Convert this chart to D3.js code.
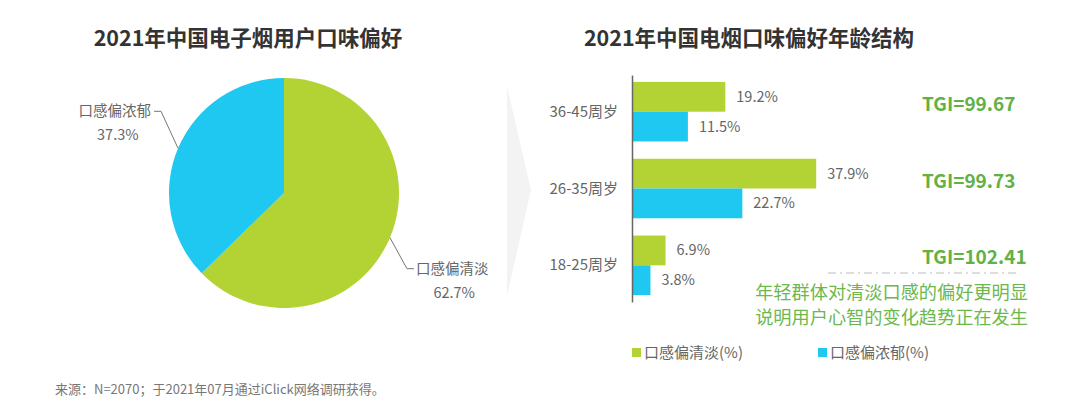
<!DOCTYPE html>
<html><head><meta charset="utf-8">
<script src="https://cdn.jsdelivr.net/npm/d3@7"></script>
<style>body{margin:0;background:#fff;} svg{display:block;font-family:"Noto Sans CJK SC","Noto Sans",sans-serif;}</style>
</head><body>
<svg id="c" width="1080" height="403"></svg>
<script>
// ---- data ----
const pieCategories = ["口感偏清淡", "口感偏浓郁"];
const pieValues = [62.7, 37.3];
const ageGroups = ["36-45周岁", "26-35周岁", "18-25周岁"];
const lightValues = [19.2, 37.9, 6.9];
const heavyValues = [11.5, 22.7, 3.8];
const tgiLabels = ["TGI=99.67", "TGI=99.73", "TGI=102.41"];
const seriesNames = ["口感偏清淡(%)", "口感偏浓郁(%)"];
const noteLines = ["年轻群体对清淡口感的偏好更明显", "说明用户心智的变化趋势正在发生"];
const title1 = "2021年中国电子烟用户口味偏好";
const title2 = "2021年中国电烟口味偏好年龄结构";
const source = "来源：N=2070；于2021年07月通过iClick网络调研获得。";

const GREEN = "#b3d234", BLUE = "#1ec8f1", TGI_GREEN = "#62b145", TXT = "#666";
const svg = d3.select("#c");

// titles
svg.append("text").attr("x", 248).attr("y", 46).attr("text-anchor", "middle")
  .attr("font-size", 21.5).attr("font-weight", "bold").attr("fill", "#333").text(title1);
svg.append("text").attr("x", 749).attr("y", 46).attr("text-anchor", "middle")
  .attr("font-size", 21.5).attr("font-weight", "bold").attr("fill", "#333").text(title2);

// ---- pie ----
const cx = 284, cy = 193, R = 115;
const pie = d3.pie().sort(null)(pieValues);
const arc = d3.arc().innerRadius(0).outerRadius(R);
const edge = d3.arc().innerRadius(R).outerRadius(R);
const gp = svg.append("g").attr("transform", `translate(${cx},${cy})`);
gp.selectAll("path").data(pie).join("path").attr("d", arc)
  .attr("fill", (d, i) => i === 0 ? GREEN : BLUE);
// labels
const labelCfg = [{dx: 17, dy: 31, hx: 7, anchor: "start"}, {dx: -17, dy: -37, hx: -7, anchor: "end"}];
pie.forEach((d, i) => {
  const c = edge.centroid(d);
  const cfg = labelCfg[i];
  const ex = c[0] + cfg.dx, ey = c[1] + cfg.dy;
  gp.append("polyline").attr("points", [c, [ex, ey], [ex + cfg.hx, ey]].map(p => p.join(",")).join(" "))
    .attr("fill", "none").attr("stroke", "#777").attr("stroke-width", 1);
  const tx = ex + cfg.hx + (cfg.hx > 0 ? 2 : -3);
  gp.append("text").attr("x", tx).attr("y", ey + 5).attr("text-anchor", cfg.anchor)
    .attr("font-size", 14.5).attr("fill", TXT).text(pieCategories[i]);
  const w = 72.5;
  const mid = cfg.anchor === "start" ? tx + w / 2 : tx - w / 2;
  gp.append("text").attr("x", mid + (i === 0 ? 2 : 3)).attr("y", ey + 29).attr("text-anchor", "middle")
    .attr("font-size", 14.5).attr("fill", TXT).text(d3.format(".1f")(pieValues[i]) + "%");
});

// arrow chevron
svg.append("path").attr("d", "M507,86 L531,190 L507,296 Z").attr("fill", "#f3f3f3");

// ---- bars ----
const x0 = 632;
const x = d3.scaleLinear().domain([0, 10]).range([x0, x0 + 48.6]);
const y = d3.scaleBand().domain(ageGroups).range([75, 302]).paddingInner(0.225).paddingOuter(0.09);
const yi = d3.scaleBand().domain([0, 1]).range([0, y.bandwidth()]);
const gb = svg.append("g");
ageGroups.forEach((g, gi) => {
  [lightValues[gi], heavyValues[gi]].forEach((v, si) => {
    const yy = y(g) + yi(si);
    gb.append("rect").attr("x", x(0)).attr("y", yy).attr("width", x(v) - x(0)).attr("height", yi.bandwidth())
      .attr("fill", si === 0 ? GREEN : BLUE);
    gb.append("text").attr("x", x(v) + 11).attr("y", yy + yi.bandwidth() / 2 + 5)
      .attr("font-size", 14.5).attr("fill", TXT).text(d3.format(".1f")(v) + "%");
  });
  gb.append("text").attr("x", 618).attr("y", y(g) + y.bandwidth() / 2 + 5).attr("text-anchor", "end")
    .attr("font-size", 15).attr("fill", TXT).text(g);
  gb.append("text").attr("x", 922).attr("y", y(g) + y.bandwidth() / 2 - 1)
    .attr("font-size", 19).attr("font-weight", "bold").attr("fill", TGI_GREEN).text(tgiLabels[gi]);
});
// axis line
const yAxis = d3.axisLeft(y).tickSize(0).tickFormat("");
svg.append("g").attr("transform", `translate(${x0},0)`).call(yAxis)
  .call(s => s.select(".domain").attr("stroke", "#666").attr("stroke-width", 1.5));

// dashed separator
svg.append("line").attr("x1", 828).attr("x2", 1020).attr("y1", 273).attr("y2", 273)
  .attr("stroke", "#ddd").attr("stroke-width", 2).attr("stroke-dasharray", "8,4,2,4");

// note
noteLines.forEach((l, i) => {
  svg.append("text").attr("x", 1028).attr("y", 299 + i * 25).attr("text-anchor", "end")
    .attr("font-size", 18.2).attr("fill", "#6cb84c").text(l);
});

// legend
const lx = [632, 818];
seriesNames.forEach((n, i) => {
  svg.append("rect").attr("x", lx[i]).attr("y", 348).attr("width", 9).attr("height", 9)
    .attr("fill", i === 0 ? GREEN : BLUE);
  svg.append("text").attr("x", lx[i] + 12).attr("y", 358).attr("font-size", 15).attr("fill", TXT).text(n);
});

// source
svg.append("text").attr("x", 55).attr("y", 394).attr("font-size", 13).attr("fill", "#777").text(source);
</script>
</body></html>
